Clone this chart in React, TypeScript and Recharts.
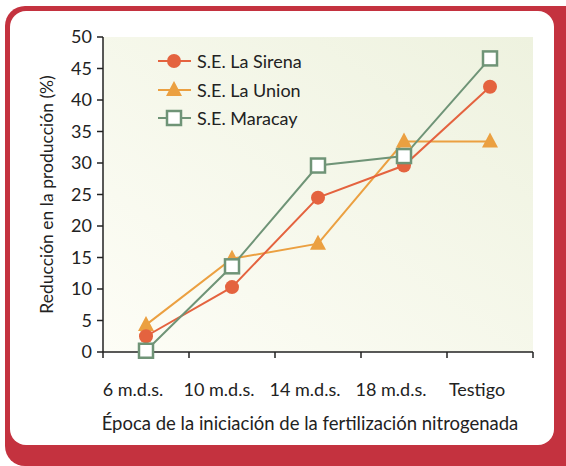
import React from 'react';
import { LineChart, Line, XAxis, YAxis, CartesianGrid, Legend, Label } from 'recharts';

const categories = ['6 m.d.s.', '10 m.d.s.', '14 m.d.s.', '18 m.d.s.', 'Testigo'];
const laSirena = [2.5, 10.3, 24.5, 29.6, 42.1];
const laUnion = [4.3, 14.8, 17.2, 33.4, 33.4];
const maracay = [0.2, 13.6, 29.6, 31.1, 46.6];
const yTicks = [0, 5, 10, 15, 20, 25, 30, 35, 40, 45, 50];
const seriesNames = ['S.E. La Sirena', 'S.E. La Union', 'S.E. Maracay'];

const RED = '#e4633f';
const ORANGE = '#eba041';
const GREEN = '#6f9477';
const FONT = 'Lato, "Open Sans", sans-serif';

const data = categories.map((c, i) => ({
  cat: c,
  sirena: laSirena[i],
  union: laUnion[i],
  maracay: maracay[i],
}));

const CircleDot = (props: any) => {
  const { cx, cy } = props;
  if (cx == null || cy == null) return null;
  return <circle cx={cx} cy={cy} r={7} fill={RED} />;
};
const TriDot = (props: any) => {
  const { cx, cy } = props;
  if (cx == null || cy == null) return null;
  return <polygon points={`${cx},${cy - 9} ${cx + 8},${cy + 6} ${cx - 8},${cy + 6}`} fill={ORANGE} />;
};
const SquareDot = (props: any) => {
  const { cx, cy } = props;
  if (cx == null || cy == null) return null;
  return <rect x={cx - 7} y={cy - 7} width={14} height={14} fill="#fff" stroke={GREEN} strokeWidth={2.5} />;
};

// Tick: label at band centre (shifted a bit left as in the original), tick marks at band boundaries
const BandTick = (props: any) => {
  const { x, y, payload, visibleTicksCount } = props;
  const half = payload && typeof payload.offset === 'number' ? payload.offset : 0;
  const isLast = payload && payload.index === (visibleTicksCount ?? categories.length) - 1;
  return (
    <g>
      <line x1={x - half} y1={y} x2={x - half} y2={y + 6} stroke="#222" strokeWidth={1.5} />
      {isLast && <line x1={x + half} y1={y} x2={x + half} y2={y + 6} stroke="#222" strokeWidth={1.5} />}
      <text x={x - 13} y={y + 44} textAnchor="middle" fontSize={18} fill="#222" fontFamily={FONT}>
        {payload.value}
      </text>
    </g>
  );
};

const legendSpec = [
  { name: seriesNames[0], color: RED, shape: 'circle' },
  { name: seriesNames[1], color: ORANGE, shape: 'tri' },
  { name: seriesNames[2], color: GREEN, shape: 'square' },
];

const LegendContent = () => (
  <div style={{ fontFamily: FONT, fontSize: 18, color: '#222' }}>
    {legendSpec.map((s) => (
      <div key={s.name} style={{ display: 'flex', alignItems: 'center', height: 28.5 }}>
        <svg width={34} height={20} style={{ display: 'block' }}>
          <line x1={0} y1={10} x2={33} y2={10} stroke={s.color} strokeWidth={2} />
          {s.shape === 'circle' && <circle cx={16} cy={10} r={7} fill={s.color} />}
          {s.shape === 'tri' && <polygon points="16,1 24,16 8,16" fill={s.color} />}
          {s.shape === 'square' && <rect x={9} y={3} width={14} height={14} fill="#fff" stroke={s.color} strokeWidth={2.5} />}
        </svg>
        <span style={{ marginLeft: 5, whiteSpace: 'nowrap' }}>{s.name}</span>
      </div>
    ))}
  </div>
);

export default function App() {
  return (
    <div style={{ position: 'fixed', left: 0, top: 0, width: 566, height: 466, background: '#fff', overflow: 'hidden' }}>
      <div style={{ position: 'absolute', left: 5, top: 6, width: 620, height: 460, background: '#c4323f', borderRadius: 20 }} />
      <div style={{ position: 'absolute', left: 10, top: 11, width: 544, height: 434, background: '#fff', borderRadius: 16 }} />
      <div style={{ position: 'absolute', left: 0, top: 0 }}>
        <LineChart width={566} height={466} data={data} margin={{ top: 37, right: 33, bottom: 34, left: 43 }}>
          <defs>
            <linearGradient id="bg" x1="0" y1="1" x2="1" y2="0">
              <stop offset="0%" stopColor="#fdfdf6" />
              <stop offset="100%" stopColor="#eef2df" />
            </linearGradient>
          </defs>
          <CartesianGrid horizontal={false} vertical={false} fill="url(#bg)" stroke="none" />
          <XAxis
            dataKey="cat"
            type="category"
            scale="band"
            axisLine={{ stroke: '#222', strokeWidth: 1.5 }}
            tickLine={false}
            tickSize={0}
            tickMargin={0}
            height={80}
            interval={0}
            tick={<BandTick />}
          >
            <Label
              value="Época de la iniciación de la fertilización nitrogenada"
              position="insideBottom"
              offset={2}
              dx={-8}
              style={{ fontSize: 18.5, fill: '#222', fontFamily: FONT }}
            />
          </XAxis>
          <YAxis
            domain={[0, 50]}
            ticks={yTicks}
            width={60}
            tickSize={6}
            tickMargin={5}
            interval={0}
            axisLine={{ stroke: '#222', strokeWidth: 1.5 }}
            tickLine={{ stroke: '#222', strokeWidth: 1.5 }}
            tick={{ fontSize: 18, fill: '#222', fontFamily: FONT }}
          >
            <Label
              value="Reducción en la producción (%)"
              angle={-90}
              position="insideLeft"
              offset={4}
              style={{ fontSize: 17.5, fill: '#222', fontFamily: FONT, textAnchor: 'middle' }}
            />
          </YAxis>
          <Legend
            layout="vertical"
            verticalAlign="middle"
            align="center"
            content={LegendContent}
            wrapperStyle={{ left: 158, top: 47, width: 'auto', height: 'auto' }}
          />
          <Line type="linear" dataKey="union" name={seriesNames[1]} stroke={ORANGE} strokeWidth={2} dot={TriDot} isAnimationActive={false} />
          <Line type="linear" dataKey="sirena" name={seriesNames[0]} stroke={RED} strokeWidth={2} dot={CircleDot} isAnimationActive={false} />
          <Line type="linear" dataKey="maracay" name={seriesNames[2]} stroke={GREEN} strokeWidth={2} dot={SquareDot} isAnimationActive={false} />
        </LineChart>
      </div>
    </div>
  );
}
